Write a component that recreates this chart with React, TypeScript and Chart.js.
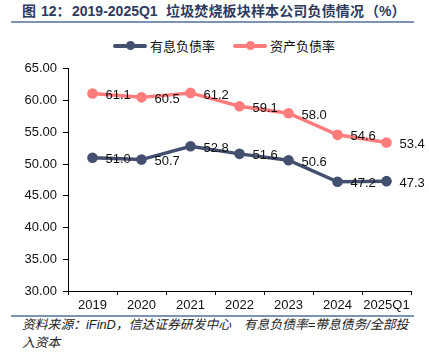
import React, { useEffect, useRef } from "react";
import { Chart, registerables } from "chart.js";

Chart.register(...registerables);

const categories = ["2019", "2020", "2021", "2022", "2023", "2024", "2025Q1"];
const interestDebtRatio = [51.0, 50.7, 52.8, 51.6, 50.6, 47.2, 47.3];
const assetLiabilityRatio = [61.1, 60.5, 61.2, 59.1, 58.0, 54.6, 53.4];
const seriesNames = ["有息负债率", "资产负债率"];
const yMin = 30;
const yMax = 65;
const yStep = 5;

const NAVY = "#44506F";
const PINK = "#FF7C7C";
const TITLE = "#2E3B5E";
const FONT = "'Liberation Sans', Arial, 'Noto Sans CJK SC', sans-serif";

const labelPlugin = {
  id: "pointLabels",
  afterDatasetsDraw(chart: any) {
    const ctx = chart.ctx;
    ctx.save();
    ctx.font = `13px ${FONT}`;
    ctx.fillStyle = "#111";
    ctx.textAlign = "left";
    ctx.textBaseline = "middle";
    chart.data.datasets.forEach((ds: any, i: number) => {
      const meta = chart.getDatasetMeta(i);
      meta.data.forEach((pt: any, j: number) => {
        ctx.fillText(Number(ds.data[j]).toFixed(1), pt.x + 13, pt.y + 2);
      });
    });
    ctx.restore();
  },
};

function LegendItem({ color, label }: { color: string; label: string }) {
  return (
    <div style={{ display: "flex", alignItems: "center", marginRight: 18 }}>
      <div style={{ position: "relative", width: 34, height: 10, marginRight: 3 }}>
        <div style={{ position: "absolute", left: 0, top: 3.5, width: 34, height: 3.5, background: color, borderRadius: 2 }} />
        <div style={{ position: "absolute", left: 12.5, top: 0.5, width: 9, height: 9, background: color, borderRadius: "50%" }} />
      </div>
      <span>{label}</span>
    </div>
  );
}

const span = (left: number, extra: any = {}) => ({
  position: "absolute" as const,
  left,
  top: 0,
  lineHeight: "18px",
  whiteSpace: "nowrap" as const,
  ...extra,
});

export default function App() {
  const ref = useRef<HTMLCanvasElement | null>(null);

  useEffect(() => {
    document.body.style.margin = "0";
    const chart = new Chart(ref.current as HTMLCanvasElement, {
      type: "line",
      data: {
        labels: categories,
        datasets: [
          {
            label: seriesNames[0],
            data: interestDebtRatio,
            borderColor: NAVY,
            backgroundColor: NAVY,
            borderWidth: 3.5,
            pointRadius: 5.3,
            pointBorderWidth: 0,
            pointBackgroundColor: NAVY,
            tension: 0,
          },
          {
            label: seriesNames[1],
            data: assetLiabilityRatio,
            borderColor: PINK,
            backgroundColor: PINK,
            borderWidth: 3.5,
            pointRadius: 5.3,
            pointBorderWidth: 0,
            pointBackgroundColor: PINK,
            tension: 0,
          },
        ],
      },
      options: {
        responsive: false,
        animation: false,
        layout: { padding: { top: 11, right: 18, left: 0, bottom: 0 } },
        plugins: { legend: { display: false }, tooltip: { enabled: false } },
        scales: {
          x: {
            offset: true,
            grid: { display: true, offset: true, drawOnChartArea: false, drawTicks: true, tickLength: 4, color: "#000" },
            border: { display: true, color: "#000", width: 1 },
            ticks: { color: "#111", font: { size: 13, family: FONT }, padding: 3, maxRotation: 0, autoSkip: false },
            afterFit: (scale: any) => {
              scale.height = 24;
            },
          },
          y: {
            min: yMin,
            max: yMax,
            grid: { display: true, drawOnChartArea: false, drawTicks: true, tickLength: 5, color: "#000" },
            border: { display: true, color: "#000", width: 1 },
            ticks: {
              stepSize: yStep,
              color: "#111",
              padding: 6,
              font: { size: 13, family: FONT },
              callback: (v: any) => Number(v).toFixed(2),
            },
            afterFit: (scale: any) => {
              scale.width = 68;
            },
          },
        },
      },
      plugins: [labelPlugin],
    });
    return () => chart.destroy();
  }, []);

  return (
    <div style={{ position: "relative", width: 429, height: 353, background: "#fff", fontFamily: FONT, overflow: "hidden" }}>
      <div style={{ position: "absolute", left: 0, top: 2, width: 429, height: 18, fontSize: 14, fontWeight: "bold", color: TITLE }}>
        <span style={span(22)}>图</span>
        <span style={span(41)}>12：</span>
        <span style={span(72)}>2019-2025Q1</span>
        <span style={span(166, { letterSpacing: "0.15px" })}>垃圾焚烧板块样本公司负债情况</span>
        <span style={span(365)}>（%）</span>
      </div>
      <div style={{ position: "absolute", left: 11, top: 21, width: 403, height: 2, background: "#7D93B5" }} />
      <div style={{ position: "absolute", left: 113, top: 36, display: "flex", fontSize: 13, color: "#111", whiteSpace: "nowrap" }}>
        <LegendItem color={NAVY} label={seriesNames[0]} />
        <LegendItem color={PINK} label={seriesNames[1]} />
      </div>
      <canvas ref={ref} width={429} height={260} style={{ position: "absolute", left: 0, top: 55 }} />
      <div style={{ position: "absolute", left: 11, top: 315, width: 403, height: 1.5, background: "#7D93B5" }} />
      <div style={{ position: "absolute", left: 22, top: 316, fontSize: 12.8, fontStyle: "italic", color: "#222", lineHeight: "18px", whiteSpace: "nowrap" }}>
        资料来源：iFinD，信达证券研发中心　有息负债率=带息债务/全部投
        <br />
        入资本
      </div>
    </div>
  );
}
